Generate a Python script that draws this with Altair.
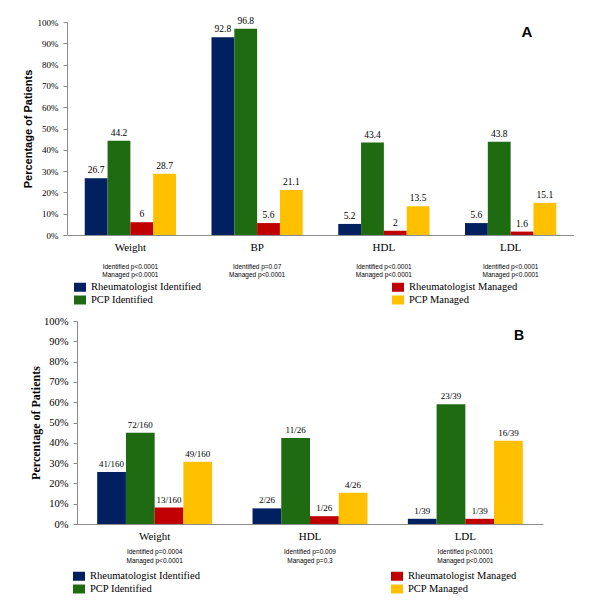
import altair as alt
import pandas as pd

series = ["Rheumatologist Identified", "PCP Identified", "Rheumatologist Managed", "PCP Managed"]
series_colors = ["#002060", "#1f6b12", "#c00000", "#ffc000"]

# Panel A (percent values)
a_categories = ["Weight", "BP", "HDL", "LDL"]
a_rheum_identified = [26.7, 92.8, 5.2, 5.6]
a_pcp_identified = [44.2, 96.8, 43.4, 43.8]
a_rheum_managed = [6, 5.6, 2, 1.6]
a_pcp_managed = [28.7, 21.1, 13.5, 15.1]
a_p_identified = ["Identified p<0.0001", "Identified p=0.07", "Identified p<0.0001", "Identified p<0.0001"]
a_p_managed = ["Managed p<0.0001", "Managed p<0.0001", "Managed p<0.0001", "Managed p<0.0001"]

# Panel B (counts / denominators)
b_categories = ["Weight", "HDL", "LDL"]
b_denominators = [160, 26, 39]
b_rheum_identified = [41, 2, 1]
b_pcp_identified = [72, 11, 23]
b_rheum_managed = [13, 1, 1]
b_pcp_managed = [49, 4, 16]
b_p_identified = ["Identified p=0.0004", "Identified p=0.009", "Identified p<0.0001"]
b_p_managed = ["Managed p<0.0001", "Managed p=0.3", "Managed p<0.0001"]

rows_a = []
for s, vals in zip(series, [a_rheum_identified, a_pcp_identified, a_rheum_managed, a_pcp_managed]):
    for c, v in zip(a_categories, vals):
        rows_a.append({"category": c, "series": s, "value": v, "label": f"{v:g}"})
df_a = pd.DataFrame(rows_a)

rows_b = []
for s, vals in zip(series, [b_rheum_identified, b_pcp_identified, b_rheum_managed, b_pcp_managed]):
    for c, n, d in zip(b_categories, vals, b_denominators):
        rows_b.append({"category": c, "series": s, "value": 100.0 * n / d, "label": f"{n}/{d}"})
df_b = pd.DataFrame(rows_b)

p_a = pd.DataFrame({"category": a_categories, "p1": a_p_identified, "p2": a_p_managed})
p_b = pd.DataFrame({"category": b_categories, "p1": b_p_identified, "p2": b_p_managed})

GRAY = "#8c8c8c"


def panel(df, pdf, cats, letter, width, height, x_start, pad_inner, pad_outer,
          tick_size, title_font, title_size, title_pad,
          value_size, legend_x, legend_y, anchor_top, anchor_bottom,
          cat_y, p_y1, p_y2, letter_x, letter_y, letter_size):
    xscale = alt.Scale(paddingInner=pad_inner, paddingOuter=pad_outer, range=[x_start, width])
    x = alt.X("category:N", sort=cats, scale=xscale,
              axis=alt.Axis(title=None, labels=False, ticks=False, domainColor=GRAY))
    xo = alt.XOffset("series:N", sort=series, scale=alt.Scale(paddingInner=0, paddingOuter=0))
    yscale = alt.Scale(domain=[0, 100], nice=False)
    y = alt.Y("value:Q", scale=yscale,
              axis=alt.Axis(title="Percentage of Patients", values=list(range(0, 101, 10)),
                            labelExpr="datum.value + '%'", grid=False, offset=-x_start,
                            labelFont="Liberation Serif", labelFontSize=tick_size,
                            labelFontWeight="normal", labelColor="black",
                            labelPadding=5, tickSize=4, tickColor=GRAY, domainColor=GRAY,
                            titleFont=title_font, titleFontSize=title_size,
                            titleFontWeight="bold", titleColor="black",
                            titlePadding=title_pad))

    bars = alt.Chart(df).mark_bar().encode(
        x=x, xOffset=xo, y=y,
        color=alt.Color("series:N",
                        scale=alt.Scale(domain=series, range=series_colors),
                        legend=alt.Legend(title=None, orient="none", legendX=legend_x,
                                          legendY=legend_y, columns=2, columnPadding=191,
                                          rowPadding=1, padding=0,
                                          symbolType="M-1,-0.75H1V0.75H-1Z", symbolSize=144,
                                          symbolStrokeWidth=0, symbolOpacity=1,
                                          labelFont="Liberation Serif", labelFontSize=10.5,
                                          labelFontWeight="normal",
                                          labelColor="black", labelOffset=5)))
    values = alt.Chart(df).mark_text(baseline="bottom", dy=-3, font="Liberation Serif",
                                     fontSize=value_size, color="black").encode(
        x=x, xOffset=xo, y=y, text="label:N")
    catlab = alt.Chart(pdf).mark_text(font="Liberation Serif", fontSize=11,
                                      color="black").encode(
        x=x, y=alt.value(cat_y), text="category:N")
    p1 = alt.Chart(pdf).mark_text(font="Liberation Sans", fontSize=6.5, color="black").encode(
        x=x, y=alt.value(p_y1), text="p1:N")
    p2 = alt.Chart(pdf).mark_text(font="Liberation Sans", fontSize=6.5, color="black").encode(
        x=x, y=alt.value(p_y2), text="p2:N")
    letter_df = pd.DataFrame({"letter": [letter]})
    let = alt.Chart(letter_df).mark_text(font="Liberation Sans", fontWeight="bold",
                                         fontSize=letter_size, color="black").encode(
        x=alt.value(letter_x), y=alt.value(letter_y), text="letter:N")
    anchor = alt.Chart(letter_df).mark_rule(opacity=0, strokeWidth=1).encode(
        x=alt.value(-58.5), y=alt.value(anchor_top), y2=alt.value(anchor_bottom))
    return alt.layer(bars, values, catlab, p1, p2, let, anchor).properties(width=width, height=height)


chart_a = panel(df_a, p_a, a_categories, "A", 507, 213, 0, 0.28, 0.14,
                9, "Liberation Sans", 11, 4,
                9.5, 7, 259, -13.5, 288, 226, 245, 253, 460, 10, 15)
chart_b = panel(df_b, p_b, b_categories, "B", 476, 203, 10, 0.26, 0.13,
                10.5, "Liberation Serif", 12, 1,
                9, 6, 249, -11, 270, 216, 231, 240, 452, 15, 14)

chart = alt.concat(chart_a, chart_b, columns=1, spacing=0).resolve_scale(
    color="independent", x="independent", y="independent", xOffset="independent"
).properties(padding=0, background="white").configure_view(stroke=None)

chart.save("out.html", embed_options={"renderer": "svg", "actions": False})
